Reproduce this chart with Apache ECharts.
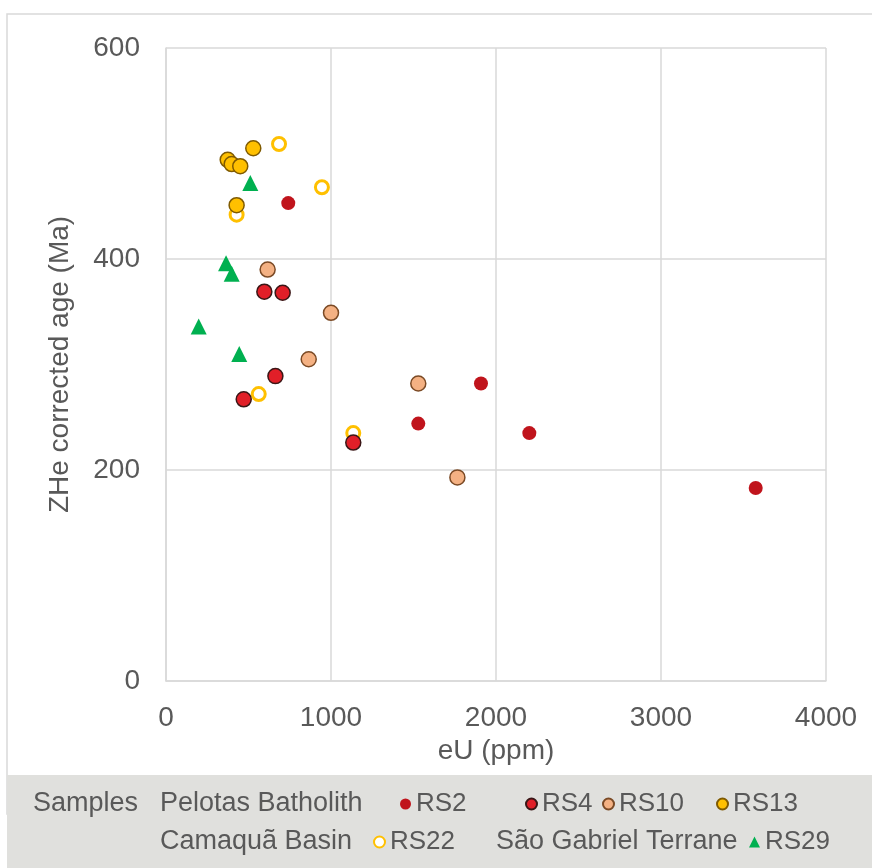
<!DOCTYPE html>
<html><head><meta charset="utf-8">
<script src="https://cdn.jsdelivr.net/npm/echarts@6/dist/echarts.min.js"></script>
<style>html,body{margin:0;padding:0;background:#fff}#c{width:872px;height:868px}</style>
</head><body><div id="c"></div>
<script>
// eU (ppm), ZHe corrected age (Ma)
const rs2  = [[741,453],[1529,244],[1909,282],[2202,235],[3574,183]];
const rs4  = [[596,369],[707,368],[663,289],[471,267],[1135,226]];
const rs10 = [[616,390],[1000,349],[865,305],[1529,282],[1766,193]];
const rs13 = [[529,505],[374,494],[398,490],[450,488],[428,451]];
const rs22 = [[685,509],[945,468],[428,442],[562,272],[1135,235]];
const rs29 = [[511,472],[364,396],[398,386],[198,336],[444,310]];
const xTicks = [0,1000,2000,3000,4000];
const yTicks = [0,200,400,600];

const FONT = '"Liberation Sans",sans-serif';
const GRAY = '#595959';
const FS = 28;
const chart = echarts.init(document.getElementById('c'));
function s(name, data, sym, size, style, z){
  return {name, type:'scatter', data, symbol:sym, symbolSize:size, z:z,
    itemStyle:Object.assign({opacity:1}, style), emphasis:{disabled:true}};
}
const legendText = {color:GRAY, fontSize:26, fontFamily:FONT};
function lg(name, left, top){
  return {data:[name], left, top, padding:0, itemWidth:11, itemHeight:11, itemGap:0, textStyle:legendText, selectedMode:false};
}
chart.setOption({
  animation:false,
  grid:{left:166, right:46, top:48, bottom:187},
  xAxis:{type:'value', min:xTicks[0], max:xTicks[xTicks.length-1], interval:1000,
    name:'eU (ppm)', nameLocation:'middle', nameGap:50,
    nameTextStyle:{color:GRAY, fontSize:FS, fontFamily:FONT},
    axisLine:{lineStyle:{color:'#d9d9d9', width:1.5}}, axisTick:{show:false},
    axisLabel:{color:GRAY, fontSize:FS, fontFamily:FONT, margin:23, formatter:v=>String(v)},
    splitLine:{lineStyle:{color:'#d9d9d9', width:1.5}}},
  yAxis:{type:'value', min:yTicks[0], max:yTicks[yTicks.length-1], interval:200,
    name:'ZHe corrected age (Ma)', nameLocation:'middle', nameGap:92,
    nameTextStyle:{color:GRAY, fontSize:FS, fontFamily:FONT},
    axisLine:{show:true, lineStyle:{color:'#d9d9d9', width:1.5}}, axisTick:{show:false},
    axisLabel:{color:GRAY, fontSize:FS, fontFamily:FONT, margin:26, formatter:v=>String(v)},
    splitLine:{lineStyle:{color:'#d9d9d9', width:1.5}}},
  legend:[lg('RS2',400,791), lg('RS4',525,791), lg('RS10',602,791), lg('RS13',716,791),
          lg('RS22',373,829), lg('RS29',749,829)],
  graphic:[
    {type:'rect', z:-10, shape:{x:7,y:14,width:900,height:800}, style:{fill:'#fff', stroke:'#d9d9d9', lineWidth:1.5}},
    {type:'rect', z:-5, shape:{x:7,y:775,width:870,height:100}, style:{fill:'#e0e0dd'}},
    {type:'text', left:33, top:790, style:{text:'Samples', fill:GRAY, font:'27px '+FONT}},
    {type:'text', left:160, top:790, style:{text:'Pelotas Batholith', fill:GRAY, font:'27px '+FONT}},
    {type:'text', left:160, top:828, style:{text:'Camaquã Basin', fill:GRAY, font:'27px '+FONT}},
    {type:'text', left:496, top:828, style:{text:'São Gabriel Terrane', fill:GRAY, font:'27px '+FONT}}
  ],
  series:[
    s('RS22', rs22, 'circle', 13, {color:'#ffffff', borderColor:'#ffc000', borderWidth:3}, 2),
    s('RS2', rs2, 'circle', 14, {color:'#c0141c'}, 3),
    s('RS4', rs4, 'circle', 15, {color:'#e11f28', borderColor:'#3a1616', borderWidth:1.5}, 3),
    s('RS10', rs10, 'circle', 15, {color:'#f4b183', borderColor:'#7b4a25', borderWidth:1.5}, 3),
    s('RS13', rs13, 'circle', 15, {color:'#ffc000', borderColor:'#7f5a00', borderWidth:1.5}, 3),
    s('RS29', rs29, 'triangle', 16, {color:'#00b050'}, 3)
  ]
});
</script></body></html>
